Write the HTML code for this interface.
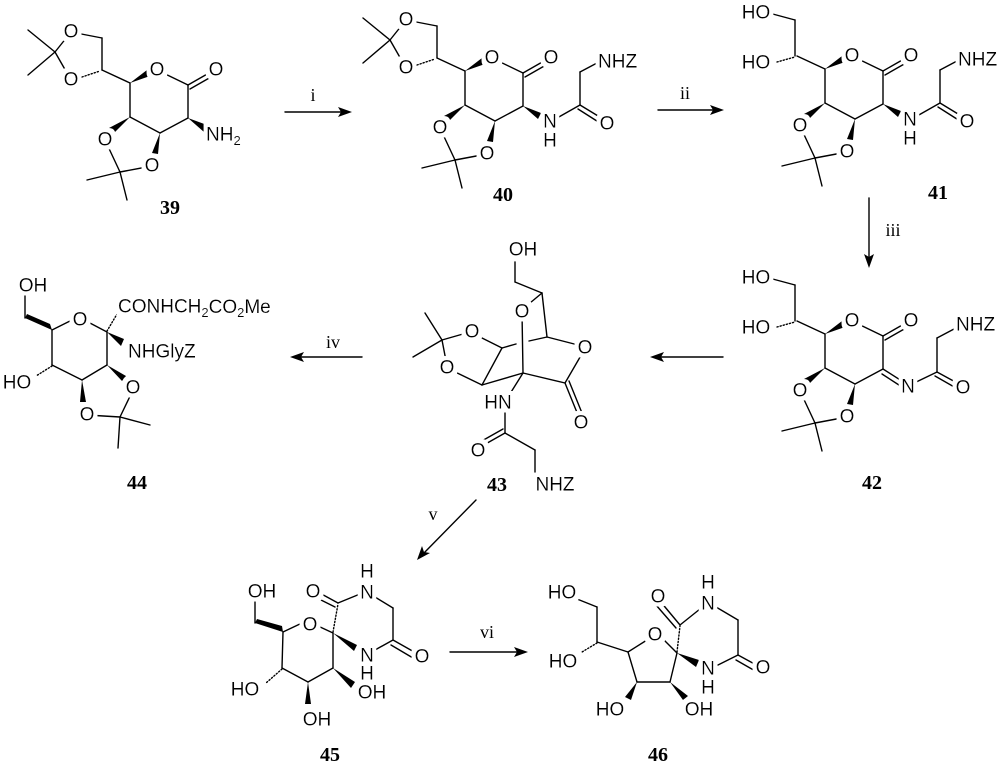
<!DOCTYPE html>
<html><head><meta charset="utf-8"><style>
html,body{margin:0;padding:0;background:#fff}
svg{display:block}
.b line,.b polyline{stroke:#000;stroke-width:1.4;fill:none;stroke-linecap:round}
.h{stroke:#000;stroke-width:5;stroke-dasharray:1.2 2;fill:none}
.w{fill:#000}
text{font-family:"Liberation Sans",sans-serif;font-size:19px;fill:#000;filter:url(#bg)}
text.c{text-anchor:middle;dominant-baseline:central}
text.s{dominant-baseline:central}
text.n{font-family:"Liberation Serif",serif;font-weight:bold;font-size:20px;text-anchor:middle;dominant-baseline:central;filter:none}
text.r{font-family:"Liberation Serif",serif;font-size:18px;text-anchor:middle;dominant-baseline:central;filter:none}
</style></head><body>
<svg width="1000" height="766" viewBox="0 0 1000 766" xmlns="http://www.w3.org/2000/svg">
<defs>
<filter id="bg" x="-20%" y="-30%" width="140%" height="160%">
<feMorphology in="SourceAlpha" operator="dilate" radius="4" result="d"/>
<feFlood flood-color="#fff"/>
<feComposite in2="d" operator="in" result="w"/>
<feMerge><feMergeNode in="w"/><feMergeNode in="SourceGraphic"/></feMerge>
</filter>
<g id="core" class="b">
<line x1="102" y1="70" x2="130" y2="83"/>
<line x1="130" y1="83" x2="130" y2="117"/>
<line x1="130" y1="117" x2="160" y2="133"/>
<line x1="160" y1="133" x2="188" y2="118"/>
<line x1="188" y1="118" x2="188" y2="85"/>
<line x1="188" y1="85" x2="157" y2="70"/>
<line x1="188" y1="85" x2="209" y2="73"/>
<line x1="190" y1="89" x2="211" y2="77"/>
<polygon class="w" points="130,83 147,70 150,76"/>
<polygon class="w" points="130,117 109,128 113,134"/>
<polygon class="w" points="160,133 152,153 158,154"/>
<line x1="105" y1="140" x2="120" y2="172"/>
<line x1="152" y1="166" x2="120" y2="172"/>
<line x1="120" y1="172" x2="87" y2="180"/>
<line x1="120" y1="172" x2="127" y2="200"/>
<text class="c" x="157" y="70">O</text>
<text class="c" x="216" y="70">O</text>
<text class="c" x="105" y="140">O</text>
<text class="c" x="152" y="166">O</text>
</g>
<g id="diox" class="b">
<line x1="28" y1="30" x2="55" y2="52"/>
<line x1="28" y1="75" x2="55" y2="52"/>
<line x1="55" y1="52" x2="71" y2="32"/>
<line x1="55" y1="52" x2="71" y2="80"/>
<line x1="71" y1="32" x2="102" y2="38"/>
<line x1="102" y1="38" x2="102" y2="70"/>
<line class="h" x1="82" y1="77" x2="100" y2="71"/>
<text class="c" x="71" y="32">O</text>
<text class="c" x="71" y="80">O</text>
</g>
<g id="diol" class="b">
<line x1="74" y1="27" x2="100" y2="34"/>
<line x1="100" y1="34" x2="100" y2="70"/>
<line class="h" x1="82" y1="76" x2="100" y2="71"/>
<text class="c" x="61" y="27">HO</text>
<text class="c" x="61" y="77">HO</text>
</g>
<g id="amide" class="b">
<polygon class="w" points="188,118 206,125 203,131"/>
<line x1="215" y1="134" x2="245" y2="117"/>
<line x1="245" y1="117" x2="268" y2="131"/>
<line x1="243" y1="121" x2="265" y2="135"/>
<line x1="245" y1="117" x2="245" y2="84"/>
<line x1="245" y1="84" x2="262" y2="75"/>
<text class="c" x="215" y="134">N</text>
<text class="c" x="215" y="153">H</text>
<text class="c" x="272" y="136">O</text>
<text class="s" x="263" y="74">NHZ</text>
</g>
</defs>

<!-- 39 -->
<use href="#core"/><use href="#diox"/>
<g class="b"><polygon class="w" points="188,118 207,125 204,132"/></g>
<text class="s" x="206" y="135">NH<tspan font-size="13" dy="5">2</tspan></text>
<text class="n" x="170" y="208">39</text>

<g class="b"><line x1="285" y1="112" x2="342" y2="112"/><polygon class="w" points="352,112 338,107 341,112 338,117"/></g>
<text class="r" x="313" y="95">i</text>

<!-- 40 -->
<g transform="translate(335,-12)"><use href="#core"/><use href="#diox"/><use href="#amide"/></g>
<text class="n" x="503" y="195">40</text>

<g class="b"><line x1="658" y1="110" x2="714" y2="110"/><polygon class="w" points="724,110 710,105 713,110 710,115"/></g>
<text class="r" x="685" y="93">ii</text>

<!-- 41 -->
<g transform="translate(695,-14)"><use href="#core"/><use href="#diol"/><use href="#amide"/></g>
<text class="n" x="938" y="193">41</text>

<g class="b"><line x1="869" y1="198" x2="869" y2="258"/><polygon class="w" points="869,268 864,254 869,257 874,254"/></g>
<text class="r" x="893" y="230">iii</text>

<!-- 42 -->
<g transform="translate(695,251)"><use href="#core"/><use href="#diol"/>
<g class="b">
<line x1="188" y1="118" x2="210" y2="132"/>
<line x1="187" y1="123" x2="207" y2="136"/>
<line x1="215" y1="134" x2="242" y2="121"/>
<line x1="242" y1="121" x2="264" y2="133"/>
<line x1="240" y1="125" x2="261" y2="137"/>
<line x1="242" y1="121" x2="242" y2="87"/>
<line x1="242" y1="87" x2="259" y2="78"/>
<text class="c" x="213" y="136">N</text>
<text class="c" x="268" y="137">O</text>
<text class="s" x="261" y="74">NHZ</text>
</g></g>
<text class="n" x="872" y="483">42</text>

<g class="b"><line x1="660" y1="357" x2="723" y2="357"/><polygon class="w" points="650,357 664,352 661,357 664,362"/></g>

<!-- 43 -->
<g class="b">
<line x1="515" y1="262" x2="515" y2="282"/>
<line x1="515" y1="282" x2="542" y2="293"/>
<line x1="542" y1="293" x2="524" y2="308"/>
<line x1="542" y1="293" x2="547" y2="337"/>
<line x1="547" y1="337" x2="582" y2="346"/>
<line x1="583" y1="352" x2="565" y2="383"/>
<line x1="565" y1="383" x2="578" y2="415"/>
<line x1="569" y1="381" x2="582" y2="413"/>
<line x1="522" y1="312" x2="523" y2="373"/>
<line x1="523" y1="373" x2="565" y2="383"/>
<line x1="547" y1="337" x2="529" y2="341"/>
<line x1="516" y1="344" x2="502" y2="348"/>
<line x1="502" y1="348" x2="474" y2="334"/>
<line x1="502" y1="348" x2="482" y2="385"/>
<line x1="482" y1="385" x2="449" y2="369"/>
<line x1="482" y1="385" x2="523" y2="373"/>
<line x1="442" y1="340" x2="470" y2="332"/>
<line x1="442" y1="340" x2="447" y2="366"/>
<line x1="442" y1="340" x2="425" y2="313"/>
<line x1="442" y1="340" x2="413" y2="357"/>
<line x1="523" y1="373" x2="508" y2="397"/>
<line x1="505" y1="410" x2="505" y2="433"/>
<line x1="505" y1="433" x2="482" y2="446"/>
<line x1="503" y1="429" x2="480" y2="442"/>
<line x1="505" y1="433" x2="535" y2="450"/>
<line x1="535" y1="450" x2="535" y2="472"/>
</g>
<text class="c" x="523" y="250">OH</text>
<text class="c" x="522" y="312">O</text>
<text class="c" x="585" y="348">O</text>
<text class="c" x="581" y="423">O</text>
<text class="c" x="472" y="332">O</text>
<text class="c" x="447" y="368">O</text>
<text class="c" x="498" y="403">HN</text>
<text class="c" x="478" y="451">O</text>
<text class="c" x="555" y="485">NHZ</text>
<text class="n" x="497" y="485">43</text>

<g class="b"><line x1="300" y1="357" x2="362" y2="357"/><polygon class="w" points="290,357 304,352 301,357 304,362"/></g>
<text class="r" x="333" y="342">iv</text>

<!-- 44 -->
<g class="b">
<line x1="25" y1="293" x2="25" y2="318"/>
<polygon class="w" points="25,318 52,330 50,324 27,314" />
<line x1="52" y1="330" x2="72" y2="320"/>
<line x1="88" y1="322" x2="107" y2="332"/>
<line class="h" x1="107" y1="331" x2="117" y2="314"/>
<polygon class="w" points="107,332 124,339 121,346"/>
<line x1="107" y1="332" x2="107" y2="365"/>
<polygon class="w" points="107,365 126,376 122,381"/>
<line x1="107" y1="365" x2="82" y2="380"/>
<polygon class="w" points="82,380 80,402 86,402"/>
<line x1="82" y1="380" x2="52" y2="365"/>
<line class="h" x1="52" y1="366" x2="36" y2="376"/>
<line x1="52" y1="365" x2="52" y2="330"/>
<line x1="87" y1="415" x2="120" y2="417"/>
<line x1="133" y1="390" x2="120" y2="417"/>
<line x1="120" y1="417" x2="150" y2="425"/>
<line x1="120" y1="417" x2="118" y2="448"/>
</g>
<text class="c" x="33" y="286">OH</text>
<text class="c" x="80" y="320">O</text>
<text class="s" x="118" y="307">CONHCH<tspan font-size="13" dy="5">2</tspan><tspan dy="-5">CO</tspan><tspan font-size="13" dy="5">2</tspan><tspan dy="-5">Me</tspan></text>
<text class="s" x="128" y="352">NHGlyZ</text>
<text class="c" x="133" y="388">O</text>
<text class="c" x="87" y="415">O</text>
<text class="c" x="17" y="383">HO</text>
<text class="n" x="137" y="483">44</text>

<g class="b"><line x1="476" y1="500" x2="423" y2="554"/><polygon class="w" points="417,560 422,546 424,552 430,553"/></g>
<text class="r" x="433" y="514">v</text>

<!-- 45 -->
<g class="b">
<line x1="255" y1="602" x2="255" y2="623"/>
<polygon class="w" points="255,623 283,632 282,626 257,619"/>
<line x1="283" y1="632" x2="302" y2="623"/>
<line x1="318" y1="626" x2="333" y2="633"/>
<line class="h" x1="333" y1="632" x2="338" y2="604"/>
<line x1="338" y1="603" x2="316" y2="591"/>
<line x1="335" y1="607" x2="313" y2="596"/>
<line x1="338" y1="603" x2="360" y2="594"/>
<line x1="375" y1="597" x2="393" y2="608"/>
<line x1="393" y1="608" x2="393" y2="640"/>
<line x1="393" y1="640" x2="416" y2="653"/>
<line x1="391" y1="645" x2="413" y2="658"/>
<line x1="393" y1="640" x2="375" y2="650"/>
<polygon class="w" points="333,633 357,645 354,651"/>
<line x1="333" y1="633" x2="333" y2="668"/>
<polygon class="w" points="333,668 355,682 351,688"/>
<line x1="333" y1="668" x2="308" y2="682"/>
<polygon class="w" points="308,682 305,704 311,704"/>
<line x1="308" y1="682" x2="282" y2="668"/>
<line class="h" x1="282" y1="669" x2="266" y2="683"/>
<line x1="282" y1="668" x2="283" y2="632"/>
</g>
<text class="c" x="262" y="592">OH</text>
<text class="c" x="310" y="625">O</text>
<text class="c" x="313" y="592">O</text>
<text class="c" x="367" y="593">N</text>
<text class="c" x="367" y="572">H</text>
<text class="c" x="422" y="657">O</text>
<text class="c" x="367" y="656">N</text>
<text class="c" x="367" y="674">H</text>
<text class="c" x="372" y="693">OH</text>
<text class="c" x="317" y="720">OH</text>
<text class="c" x="245" y="690">HO</text>
<text class="n" x="330" y="755">45</text>

<g class="b"><line x1="450" y1="652" x2="518" y2="652"/><polygon class="w" points="528,652 514,647 517,652 514,657"/></g>
<text class="r" x="487" y="632">vi</text>

<!-- 46 -->
<g class="b">
<line x1="577" y1="599" x2="597" y2="607"/>
<line x1="597" y1="607" x2="597" y2="642"/>
<line class="h" x1="597" y1="643" x2="582" y2="652"/>
<line x1="597" y1="642" x2="628" y2="652"/>
<line x1="628" y1="652" x2="647" y2="640"/>
<line x1="663" y1="639" x2="677" y2="653"/>
<line class="h" x1="677" y1="652" x2="680" y2="626"/>
<line x1="680" y1="625" x2="660" y2="601"/>
<line x1="676" y1="628" x2="656" y2="605"/>
<line x1="680" y1="625" x2="700" y2="609"/>
<line x1="716" y1="607" x2="738" y2="620"/>
<line x1="738" y1="620" x2="738" y2="655"/>
<line x1="738" y1="655" x2="760" y2="667"/>
<line x1="736" y1="660" x2="757" y2="672"/>
<line x1="738" y1="655" x2="718" y2="665"/>
<polygon class="w" points="677,653 699,660 696,667"/>
<line x1="677" y1="653" x2="670" y2="682"/>
<polygon class="w" points="670,682 688,696 683,700"/>
<line x1="670" y1="682" x2="637" y2="682"/>
<polygon class="w" points="637,682 625,697 631,700"/>
<line x1="637" y1="682" x2="628" y2="652"/>
</g>
<text class="c" x="562" y="593">HO</text>
<text class="c" x="563" y="662">HO</text>
<text class="c" x="655" y="635">O</text>
<text class="c" x="658" y="597">O</text>
<text class="c" x="708" y="604">N</text>
<text class="c" x="708" y="583">H</text>
<text class="c" x="763" y="668">O</text>
<text class="c" x="708" y="669">N</text>
<text class="c" x="708" y="688">H</text>
<text class="c" x="699" y="710">OH</text>
<text class="c" x="610" y="710">HO</text>
<text class="n" x="658" y="755">46</text>
</svg>
</body></html>
